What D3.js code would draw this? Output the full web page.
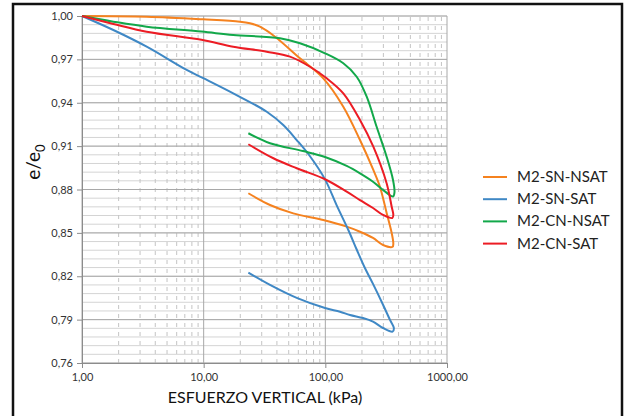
<!DOCTYPE html>
<html>
<head>
<meta charset="utf-8">
<script src="https://cdn.jsdelivr.net/npm/d3@7"></script>
<style>
  body { margin: 0; background: #fff; }
  text { font-family: Lato, "Open Sans", sans-serif; }
</style>
</head>
<body>
<div id="chart"></div>
<script>
'use strict'

// ensayo de consolidacion: [esfuerzo kPa, e/e0], carga y descarga
const seriesNames = ["M2-SN-NSAT", "M2-SN-SAT", "M2-CN-NSAT", "M2-CN-SAT"]
const seriesColors = ["#f5821f", "#3f88c5", "#12a84a", "#ec1c24"]

const snNsat = [
  [1, 1.000], [3.4, 0.9995], [9.9, 0.9977], [19.9, 0.9961], [24, 0.9950], [29, 0.9926],
  [38.6, 0.9857], [61.9, 0.9707], [96.2, 0.9569], [140.5, 0.9373], [192.7, 0.9142],
  [248, 0.8935], [281, 0.8819], [319, 0.8638], [351, 0.8499], [362, 0.8425], [357, 0.8404],
  [298, 0.8416], [246.5, 0.8465], [192.7, 0.8508], [149.8, 0.8543], [96.2, 0.8589],
  [54.5, 0.8635], [35.1, 0.8693], [23.3, 0.8774]
]
const snSat = [
  [1, 1.000], [1.81, 0.9903], [3.4, 0.9788], [7.25, 0.9627], [9.93, 0.957], [17.5, 0.9465],
  [33, 0.9338], [45.1, 0.9246], [58.2, 0.9142], [74.8, 0.9030], [99.4, 0.8870], [124, 0.869],
  [154.5, 0.852], [181, 0.8385], [212, 0.8255], [246.5, 0.8147], [298, 0.8003], [340, 0.7898],
  [366, 0.7842], [357, 0.7817],
  [298, 0.7842], [246.5, 0.7886], [204, 0.7911], [159.5, 0.7932], [132, 0.7955], [99.4, 0.798],
  [58.2, 0.805], [35.1, 0.814], [23.3, 0.8225]
]
const cnNsat = [
  [1, 1.000], [1.81, 0.9961], [3.4, 0.9926], [9.6, 0.9892], [17.5, 0.9869], [42.4, 0.9846],
  [61.9, 0.9811], [99.4, 0.9742], [140.5, 0.9673], [181, 0.958], [218.8, 0.9442], [264, 0.9234],
  [319, 0.9027], [360, 0.8866], [370, 0.8780], [360, 0.8752],
  [298, 0.8797], [246.5, 0.8854], [192.7, 0.8912], [149.8, 0.8963], [99.4, 0.9025],
  [65.5, 0.9066], [35.1, 0.912], [23.3, 0.9189]
]
const cnSat = [
  [1, 1.000], [1.81, 0.9945], [3.4, 0.9891], [9.6, 0.9835], [17.5, 0.9788], [33, 0.9753],
  [51.2, 0.9719], [74.8, 0.9649], [102.6, 0.9569], [140.5, 0.9465], [192.7, 0.9281],
  [248, 0.9096], [319, 0.8843], [351, 0.8681], [362, 0.8625], [356, 0.8603],
  [298, 0.8624], [246.5, 0.8672], [192.7, 0.8727], [149.8, 0.8785], [99.4, 0.8871],
  [58.2, 0.8947], [37.4, 0.9016], [23.3, 0.9113]
]
const seriesData = [snNsat, snSat, cnNsat, cnSat]

const xTicks = [1, 10, 100, 1000]
const yTicks = [0.76, 0.79, 0.82, 0.85, 0.88, 0.91, 0.94, 0.97, 1.00]

const width = 624
const height = 416
const locale = d3.formatLocale({ decimal: ",", thousands: ".", grouping: [3], currency: ["", ""] })
const fmt = locale.format(".2f")

const svg = d3.select("#chart").append("svg")
    .attr("width", width)
    .attr("height", height)

// marco
svg.append("rect")
    .attr("x", 13).attr("y", 4)
    .attr("width", 609).attr("height", 430)
    .attr("fill", "none")
    .attr("stroke", "#111")
    .attr("stroke-width", 2.5)

const x = d3.scaleLog().domain([1, 1000]).range([82, 447])
const y = d3.scaleLinear().domain([0.76, 1.0]).range([363, 16])

// grilla
const minorY = d3.range(0, 41).map(i => 0.76 + i * 0.006)
svg.append("g").selectAll("line")
  .data(minorY)
  .enter().append("line")
    .attr("x1", x.range()[0]).attr("x2", x.range()[1])
    .attr("y1", d => y(d)).attr("y2", d => y(d))
    .attr("stroke", "#d4d4d4")
    .attr("stroke-width", 1)

const minorX = []
for (let dec = 1; dec < 1000; dec *= 10) {
  for (let k = 2; k <= 9; k++) minorX.push(dec * k)
}
svg.append("g").selectAll("line")
  .data(minorX)
  .enter().append("line")
    .attr("x1", d => x(d)).attr("x2", d => x(d))
    .attr("y1", y.range()[0]).attr("y2", y.range()[1])
    .attr("stroke", "#c4c4c4")
    .attr("stroke-width", 1)
    .attr("stroke-dasharray", "4,5")

svg.append("g").selectAll("line")
  .data(yTicks)
  .enter().append("line")
    .attr("x1", x.range()[0]).attr("x2", x.range()[1])
    .attr("y1", d => y(d)).attr("y2", d => y(d))
    .attr("stroke", "#a8a8a8")
    .attr("stroke-width", 1)

svg.append("g").selectAll("line")
  .data(xTicks)
  .enter().append("line")
    .attr("x1", d => x(d)).attr("x2", d => x(d))
    .attr("y1", y.range()[0]).attr("y2", y.range()[1])
    .attr("stroke", "#a8a8a8")
    .attr("stroke-width", 1)

// ejes
svg.append("g")
    .attr("transform", "translate(" + x.range()[0] + ",0)")
    .call(d3.axisLeft(y).tickValues(yTicks).tickFormat(fmt).tickSize(5).tickPadding(4))
svg.append("g")
    .attr("transform", "translate(0," + y.range()[0] + ")")
    .call(d3.axisBottom(x).tickValues(xTicks).tickFormat(fmt).tickSize(5).tickPadding(5))

svg.selectAll(".domain, .tick line").attr("stroke", "#8c8c8c")
svg.selectAll(".tick text")
    .attr("fill", "#333")
    .style("font-size", "11px")
    .style("font-family", "Lato, 'Open Sans', sans-serif")

// curvas
const line = d3.line()
    .x(d => x(d[0]))
    .y(d => y(d[1]))
    .curve(d3.curveCatmullRom.alpha(0.5))

svg.append("g").selectAll("path")
  .data(seriesData)
  .enter().append("path")
    .attr("d", d => line(d))
    .attr("fill", "none")
    .attr("stroke", (d, i) => seriesColors[i])
    .attr("stroke-width", 2)
    .attr("stroke-linejoin", "round")

// titulos
svg.append("text")
    .attr("x", 265).attr("y", 403)
    .attr("text-anchor", "middle")
    .style("font-size", "16px")
    .attr("fill", "#111")
    .text("ESFUERZO VERTICAL (kPa)")

const yt = svg.append("text")
    .attr("transform", "translate(40,162) rotate(-90)")
    .attr("text-anchor", "middle")
    .style("font-size", "19px")
    .attr("fill", "#111")
yt.append("tspan").text("e/e")
yt.append("tspan").attr("dy", 5).style("font-size", "13px").text("0")

// leyenda
const legend = svg.append("g").selectAll("g")
  .data(seriesNames)
  .enter().append("g")
    .attr("transform", (d, i) => "translate(483," + (177 + i * 22.2) + ")")
legend.append("line")
    .attr("x1", 0).attr("x2", 24)
    .attr("stroke", (d, i) => seriesColors[i])
    .attr("stroke-width", 2)
legend.append("text")
    .attr("x", 34).attr("y", 5)
    .style("font-size", "15px")
    .attr("fill", "#222")
    .text(d => d)
</script>
</body>
</html>
